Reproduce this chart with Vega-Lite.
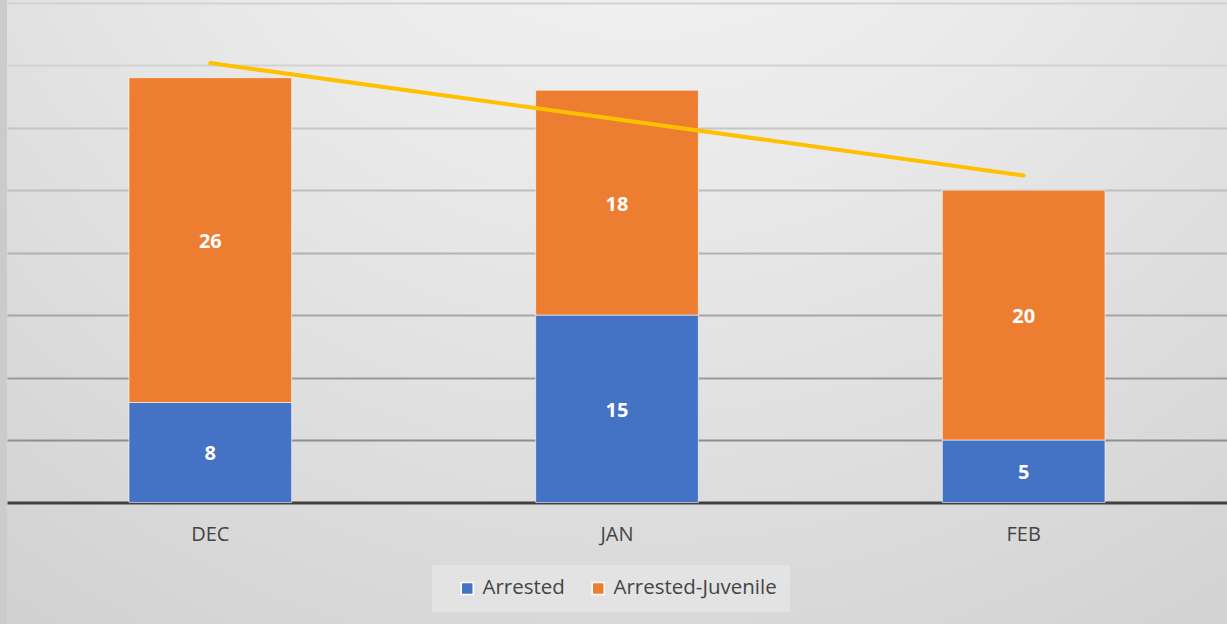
{
  "$schema": "https://vega.github.io/schema/vega-lite/v6.json",
  "width": 1220,
  "height": 624,
  "autosize": {"type": "none"},
  "padding": {"left": 7, "top": 0, "right": 0, "bottom": 0},
  "background": "#cbcbcb",
  "datasets": {
    "bars": [
      {"month": "DEC", "type": "Arrested", "count": 8},
      {"month": "DEC", "type": "Arrested-Juvenile", "count": 26},
      {"month": "JAN", "type": "Arrested", "count": 15},
      {"month": "JAN", "type": "Arrested-Juvenile", "count": 18},
      {"month": "FEB", "type": "Arrested", "count": 5},
      {"month": "FEB", "type": "Arrested-Juvenile", "count": 20}
    ],
    "trend": [
      {"month": "DEC", "trend": 35.17},
      {"month": "JAN", "trend": 30.67},
      {"month": "FEB", "trend": 26.17}
    ]
  },
  "layer": [
    {
      "data": {"name": "bars"},
      "mark": {"type": "bar", "stroke": "#ffffff", "strokeWidth": 1, "strokeOpacity": 0.6},
      "encoding": {
        "x": {
          "field": "month", "type": "nominal", "sort": ["DEC", "JAN", "FEB"],
          "scale": {"paddingInner": 0.6, "paddingOuter": 0.3},
          "axis": {
            "title": null, "labelAngle": 0, "orient": "bottom", "offset": -121.5,
            "ticks": false, "grid": false, "domainColor": "#404040", "domainWidth": 3,
            "labelFont": "Open Sans", "labelFontSize": 20, "labelColor": "#444444", "labelPadding": 22
          }
        },
        "y": {
          "field": "count", "type": "quantitative", "stack": "zero",
          "scale": {"domain": [-9.73, 40.22], "nice": false, "zero": false},
          "axis": {
            "title": null, "labels": false, "ticks": false, "domain": false, "grid": true,
            "values": [5, 10, 15, 20, 25, 30, 35, 40], "gridWidth": 2,
            "gridColor": {
              "condition": [
                {"test": "datum.value <= 5", "value": "#8e8e8e"},
                {"test": "datum.value <= 10", "value": "#9a9a9a"},
                {"test": "datum.value <= 15", "value": "#a6a6a6"},
                {"test": "datum.value <= 20", "value": "#b2b2b2"},
                {"test": "datum.value <= 25", "value": "#bdbdbd"},
                {"test": "datum.value <= 30", "value": "#c6c6c6"}
              ],
              "value": "#d2d2d2"
            }
          }
        },
        "color": {
          "field": "type", "type": "nominal",
          "scale": {"domain": ["Arrested", "Arrested-Juvenile"], "range": ["#4472C4", "#ED7D31"]},
          "legend": {
            "title": null, "orient": "none", "legendX": 425, "legendY": 565,
            "direction": "horizontal", "fillColor": "#e3e3e3", "padding": 13,
            "symbolType": "square", "symbolSize": 144, "symbolOffset": 12,
            "labelFont": "Open Sans", "labelFontSize": 20.5, "labelColor": "#444444",
            "labelOffset": 5, "columnPadding": 11, "labelLimit": 400
          }
        },
        "order": {"field": "type", "sort": "ascending"}
      }
    },
    {
      "data": {"name": "trend"},
      "mark": {"type": "line", "color": "#FFC000", "strokeWidth": 4, "strokeCap": "round"},
      "encoding": {
        "x": {"field": "month", "type": "nominal", "sort": ["DEC", "JAN", "FEB"]},
        "y": {"field": "trend", "type": "quantitative", "scale": {"domain": [-9.73, 40.22], "nice": false, "zero": false}}
      }
    },
    {
      "data": {"name": "bars"},
      "transform": [
        {"stack": "count", "groupby": ["month"], "sort": [{"field": "type", "order": "ascending"}], "as": ["y0", "y1"]},
        {"calculate": "(datum.y0 + datum.y1) / 2", "as": "mid"}
      ],
      "mark": {"type": "text", "color": "#ffffff", "font": "Open Sans", "fontWeight": "bold", "fontSize": 20, "baseline": "middle", "align": "center", "dy": 2},
      "encoding": {
        "x": {"field": "month", "type": "nominal", "sort": ["DEC", "JAN", "FEB"]},
        "y": {"field": "mid", "type": "quantitative", "scale": {"domain": [-9.73, 40.22], "nice": false, "zero": false}},
        "text": {"field": "count", "type": "quantitative"}
      }
    }
  ],
  "config": {
    "view": {
      "stroke": null,
      "fill": {
        "gradient": "radial",
        "x1": 0.52, "y1": 0, "r1": 0,
        "x2": 0.52, "y2": 0, "r2": 1.1,
        "stops": [
          {"offset": 0, "color": "#f7f7f7"},
          {"offset": 0.35, "color": "#eaeaea"},
          {"offset": 0.7, "color": "#d8d8d8"},
          {"offset": 1, "color": "#c8c8c8"}
        ]
      }
    }
  }
}
